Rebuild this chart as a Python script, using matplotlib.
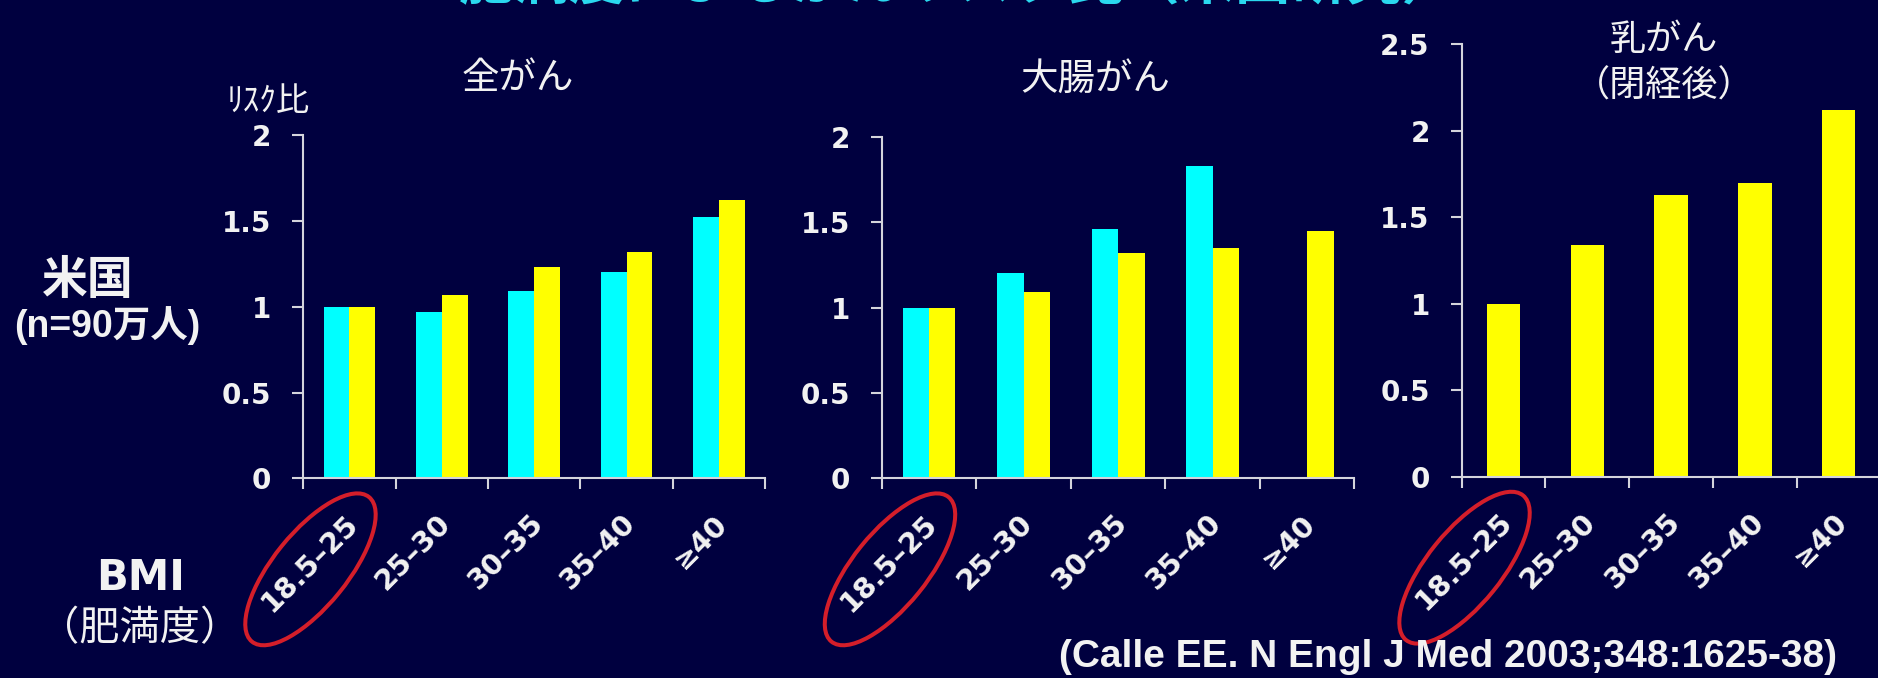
import numpy as np
import matplotlib.pyplot as plt
from matplotlib.patches import Ellipse
from matplotlib.transforms import ScaledTranslation

# BMI区分（横軸）
bmi_labels = ['18.5–25', '25–30', '30–35', '35–40', '≥40']

# リスク比（水色＝男性、黄色＝女性）
all_men = [1.00, 0.97, 1.09, 1.20, 1.52]
all_women = [1.00, 1.07, 1.23, 1.32, 1.62]
crc_men = [1.00, 1.20, 1.46, 1.83, np.nan]
crc_women = [1.00, 1.09, 1.32, 1.35, 1.45]
breast_women = [1.00, 1.34, 1.63, 1.70, 2.12]

BG = '#00003f'
CYAN = '#00ffff'
YELLOW = '#ffff00'
FG = '#f2f2f2'
AXC = '#d4d4dc'
RED = '#d41e2a'

JP = ['Noto Sans CJK JP', 'DejaVu Sans']
NUM = ['DejaVu Sans', 'Noto Sans CJK JP']
LAT = ['Liberation Sans', 'Noto Sans CJK JP']

fig = plt.figure(figsize=(18.78, 6.78), dpi=100, facecolor=BG)

ax1 = fig.add_axes([0.1615, 0.2945, 0.2459, 0.5063])
ax2 = fig.add_axes([0.4695, 0.2945, 0.2517, 0.5038])
ax3 = fig.add_axes([0.7783, 0.2969, 0.2230, 0.6378])


def setup(ax, ymax):
    ax.set_facecolor(BG)
    for s in ['top', 'right']:
        ax.spines[s].set_visible(False)
    for s in ['left', 'bottom']:
        ax.spines[s].set_color(AXC)
        ax.spines[s].set_linewidth(1.5)
    ax.set_xlim(-0.5, 4.5)
    ax.set_ylim(0, ymax)
    # 目盛りは区分の境界に
    ax.set_xticks(np.arange(-0.5, 5, 1))
    ax.set_xticklabels([])
    yt = np.arange(0, ymax + 0.01, 0.5)
    ax.set_yticks(yt)
    ax.set_yticklabels([f'{v:g}' for v in yt])
    ax.tick_params(axis='both', colors=AXC, length=8, width=1.5, direction='out')
    ax.tick_params(axis='y', pad=15, labelcolor=FG)
    for lab in ax.get_yticklabels():
        lab.set_fontfamily(NUM)
        lab.set_fontweight('bold')
        lab.set_fontsize(20)

    # 斜めのBMIラベル
    off = ScaledTranslation(0.045, -0.41, fig.dpi_scale_trans)
    for i, lab in enumerate(bmi_labels):
        ax.text(i, 0, lab, transform=ax.get_xaxis_transform() + off,
                rotation=45, rotation_mode='anchor', ha='right', va='center',
                fontsize=20.5, fontweight='bold', family=NUM, color=FG)

    # 基準区分を赤丸で囲む
    ell = Ellipse((-0.39, -0.91), 1.86, 0.74, angle=51,
                  transform=fig.dpi_scale_trans + ScaledTranslation(0, 0, ax.transData),
                  fill=False, ec=RED, lw=2.9)
    fig.add_artist(ell)


x = np.arange(len(bmi_labels))
w = 0.28

setup(ax1, 2)
ax1.bar(x - w / 2, all_men, w, color=CYAN)
ax1.bar(x + w / 2, all_women, w, color=YELLOW)

setup(ax2, 2)
ax2.bar(x - w / 2, crc_men, w, color=CYAN)
ax2.bar(x + w / 2, crc_women, w, color=YELLOW)

setup(ax3, 2.5)
ax3.bar(x, breast_women, 0.4, color=YELLOW)

# 見出し（上端で切れている）
fig.text(0.51, 1 + 2 / 678, '肥満度によるがんリスク比（米国研究）', ha='center', va='baseline',
         fontsize=40, fontweight='bold', family=JP, color='#2ad8ee')

fig.text(0.1427, 0.851, 'ﾘｽｸ比', ha='center', va='center', fontsize=24, family=JP, color=FG)
fig.text(0.2755, 0.8835, '全がん', ha='center', va='center', fontsize=27, family=JP, color=FG)
fig.text(0.5830, 0.8835, '大腸がん', ha='center', va='center', fontsize=27, family=JP, color=FG)
fig.text(0.8860, 0.9410, '乳がん', ha='center', va='center', fontsize=26, family=JP, color=FG)
fig.text(0.8860, 0.8730, '（閉経後）', ha='center', va='center', fontsize=26, family=JP, color=FG)

fig.text(0.0469, 0.5850, '米国', ha='center', va='center', fontsize=33, fontweight='bold',
         family=JP, color=FG)
fig.text(0.0570, 0.5192, '(n=90万人)', ha='center', va='center', fontsize=27, fontweight='bold',
         family=LAT, color=FG)
fig.text(0.0750, 0.1480, 'BMI', ha='center', va='center', fontsize=30, fontweight='bold',
         family=NUM, color=FG)
fig.text(0.0745, 0.0730, '（肥満度）', ha='center', va='center', fontsize=29, family=JP, color=FG)

fig.text(0.7710, 0.031, '(Calle EE. N Engl J Med 2003;348:1625-38)', ha='center', va='center',
         fontsize=28, fontweight='bold', family=LAT, color=FG)

fig.savefig('out.png', dpi=100, facecolor=BG)
